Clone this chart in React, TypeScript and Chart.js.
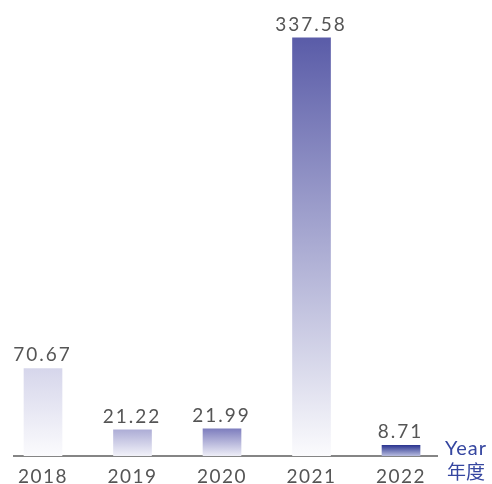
import React, { useEffect, useRef } from "react";
import { Chart, registerables } from "chart.js";

Chart.register(...registerables);

const years: string[] = ["2018", "2019", "2020", "2021", "2022"];
const values: number[] = [70.67, 21.22, 21.99, 337.58, 8.71];
const topColors: string[] = ["#d6d6eb", "#adadd6", "#7e7ebe", "#5a5ca8", "#2b3590"];
const bottomColors: string[] = ["#fbfbfd", "#f2f2f9", "#eeeef7", "#fbfbfd", "#b8bcdf"];
const axisTitleEn = "Year";
const axisTitleZh = "年度";

export default function App() {
  const ref = useRef<HTMLCanvasElement | null>(null);

  useEffect(() => {
    const canvas = ref.current;
    if (!canvas) return;

    const spacingPlugin = {
      id: "spacing",
      beforeDraw(chart: any) {
        chart.ctx.letterSpacing = "1.5px";
      },
    };

    const labelPlugin = {
      id: "valueLabels",
      afterDatasetsDraw(chart: any) {
        const ctx = chart.ctx;
        const meta = chart.getDatasetMeta(0);
        ctx.save();
        ctx.letterSpacing = "2px";
        ctx.font = "19px Lato, 'Open Sans', sans-serif";
        ctx.fillStyle = "#555555";
        ctx.textAlign = "center";
        ctx.textBaseline = "alphabetic";
        meta.data.forEach((bar: any, i: number) => {
          ctx.fillText(values[i].toFixed(2), bar.x - 0.5, bar.y - 7);
        });
        ctx.restore();

        const area = chart.chartArea;
        ctx.save();
        ctx.letterSpacing = "1px";
        ctx.fillStyle = "#3546a0";
        ctx.textAlign = "left";
        ctx.textBaseline = "alphabetic";
        ctx.font = "20px Lato, 'Open Sans', sans-serif";
        ctx.fillText(axisTitleEn, area.right + 8, area.bottom - 1);
        ctx.letterSpacing = "0px";
        ctx.font = "19px 'Noto Sans CJK SC', sans-serif";
        ctx.fillText(axisTitleZh, area.right + 10, area.bottom + 23);
        ctx.restore();
      },
    };

    const chart = new Chart(canvas, {
      type: "bar",
      data: {
        datasets: [
          {
            data: values.map((v, i) => ({ x: i, y: v })),
            barThickness: 38,
            borderWidth: 0,
            backgroundColor: (c: any) => {
              const ch = c.chart;
              const i = c.dataIndex;
              if (!ch.chartArea || i === undefined) return topColors[i ?? 0];
              const ys = ch.scales.y;
              const top = ys.getPixelForValue(values[i]);
              const bottom = ys.getPixelForValue(0);
              const g = ch.ctx.createLinearGradient(0, top, 0, bottom);
              g.addColorStop(0, topColors[i]);
              g.addColorStop(1, bottomColors[i]);
              return g;
            },
          },
        ],
      },
      options: {
        animation: false,
        responsive: false,
        maintainAspectRatio: false,
        layout: { padding: { left: 14, right: 55, top: 20, bottom: 0 } },
        plugins: { legend: { display: false }, tooltip: { enabled: false } },
        scales: {
          x: {
            type: "linear",
            offset: false,
            min: -0.324,
            max: 4.402,
            grid: { display: false, drawTicks: false },
            border: { display: true, color: "#858585", width: 2 },
            ticks: {
              stepSize: 1,
              autoSkip: false,
              maxRotation: 0,
              padding: 11,
              color: "#555555",
              font: { family: "Lato, 'Open Sans', sans-serif", size: 19, weight: "normal", lineHeight: 1 },
              callback: (v: any) => (Number.isInteger(v) && years[v] !== undefined ? years[v] : ""),
            },
            afterBuildTicks: (axis: any) => {
              axis.ticks = years.map((_, i) => ({ value: i }));
            },
            afterFit: (axis: any) => {
              axis.height = 28;
            },
          },
          y: {
            display: false,
            min: 0,
            max: 352,
          },
        },
      } as any,
      plugins: [spacingPlugin, labelPlugin],
    });

    return () => chart.destroy();
  }, []);

  return (
    <div style={{ position: "fixed", left: 0, top: 0, width: 492, height: 484, background: "#ffffff" }}>
      <canvas ref={ref} width={492} height={484} style={{ width: 492, height: 484, display: "block" }} />
    </div>
  );
}
